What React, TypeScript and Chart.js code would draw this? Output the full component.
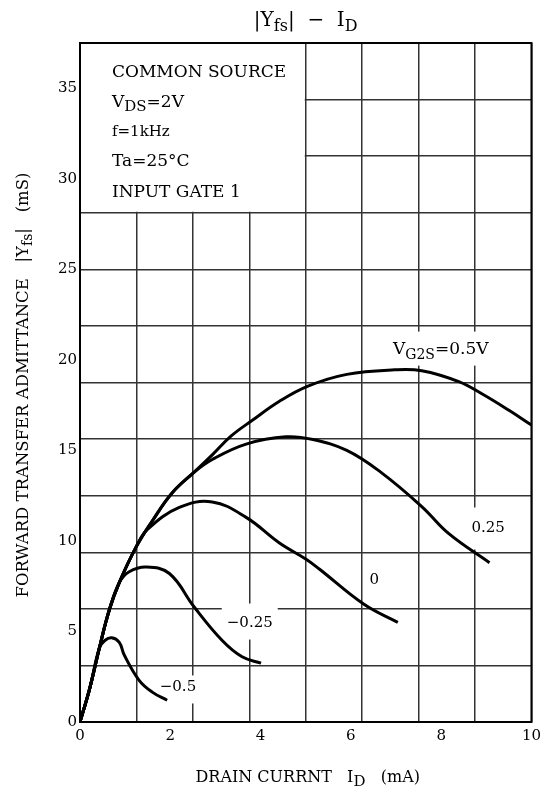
import React, { useEffect, useRef } from 'react';
import { Chart, registerables } from 'chart.js';
Chart.register(...registerables);

const SERIF = "'DejaVu Serif', serif";

// Axis ranges and grid divisions
const X_MAX = 10;
const Y_MAX = 37.5;
const X_GRID_STEP = 1.25;
const Y_GRID_STEP = 3.125;
const X_LABEL_STEP = 2;
const Y_LABEL_STEP = 5;

// VG2S = 0.5 V
const idP050 = [0, 0.21, 0.43, 0.65, 0.87, 1.25, 1.6, 2.04, 2.53, 2.93, 3.35, 3.81, 4.41, 5.05, 5.91, 6.97, 7.57, 8.39, 8.92, 9.51, 10];
const yfsP050 = [0, 1.8, 4.1, 6.2, 7.7, 9.7, 11.1, 12.65, 13.8, 14.75, 15.8, 16.65, 17.7, 18.55, 19.2, 19.45, 19.4, 18.8, 18.1, 17.2, 16.4];
// VG2S = 0.25 V
const idP025 = [0, 0.21, 0.43, 0.65, 0.87, 1.25, 1.6, 2.04, 2.53, 2.93, 3.68, 4.56, 5.16, 5.91, 6.66, 7.57, 8.17, 9.07];
const yfsP025 = [0, 1.8, 4.1, 6.2, 7.7, 9.7, 11.1, 12.65, 13.8, 14.5, 15.35, 15.75, 15.6, 15.0, 13.8, 11.9, 10.4, 8.8];
// VG2S = 0 V
const id000 = [0, 0.21, 0.43, 0.65, 0.87, 1.25, 1.5, 2.2, 2.93, 3.68, 4.41, 5.0, 5.3, 6.29, 7.04];
const yfs000 = [0, 1.8, 4.1, 6.2, 7.7, 9.7, 10.65, 11.85, 12.15, 11.3, 9.9, 9.0, 8.45, 6.5, 5.5];
// VG2S = -0.25 V
const idM025 = [0, 0.21, 0.43, 0.65, 0.87, 1.09, 1.47, 1.98, 2.53, 3.15, 3.59, 4.01];
const yfsM025 = [0, 1.8, 4.1, 6.2, 7.7, 8.3, 8.56, 8.2, 6.35, 4.5, 3.6, 3.25];
// VG2S = -0.5 V
const idM050 = [0, 0.21, 0.43, 0.55, 0.7, 0.87, 0.98, 1.31, 1.6, 1.93];
const yfsM050 = [0, 1.8, 4.1, 4.5, 4.65, 4.4, 3.7, 2.3, 1.65, 1.2];

const seriesX = [idP050, idP025, id000, idM025, idM050];
const seriesY = [yfsP050, yfsP025, yfs000, yfsM025, yfsM050];

type Part = { t: string; sub?: boolean };

const curveLabelParts: Part[][] = [
  [{ t: 'V' }, { t: 'G2S', sub: true }, { t: '=0.5V' }],
  [{ t: '0.25' }],
  [{ t: '0' }],
  [{ t: '\u22120.25' }],
  [{ t: '\u22120.5' }],
];
// label anchor in data units (center of text)
const curveLabelX = [7.99, 9.04, 6.52, 3.76, 2.17];
const curveLabelY = [20.65, 10.77, 7.9, 5.52, 1.99];
const labelPadTop = [8, 12, 8, 11, 3];
const labelPadBottom = [9, 15, 8, 10, 10];

const infoLines: Part[][] = [
  [{ t: 'COMMON SOURCE' }],
  [{ t: 'V' }, { t: 'DS', sub: true }, { t: '=2V' }],
  [{ t: 'f=1kHz' }],
  [{ t: 'Ta=25\u00b0C' }],
  [{ t: 'INPUT GATE 1' }],
];

function drawRich(
  ctx: CanvasRenderingContext2D,
  parts: Part[],
  x: number,
  y: number,
  size: number,
  subSize: number,
  subDy: number,
  align: 'left' | 'center'
) {
  const widths = parts.map((p) => {
    ctx.font = `${p.sub ? subSize : size}px ${SERIF}`;
    return ctx.measureText(p.t).width;
  });
  const total = widths.reduce((a, b) => a + b, 0);
  let cx = align === 'center' ? x - total / 2 : x;
  ctx.textAlign = 'left';
  ctx.textBaseline = 'alphabetic';
  parts.forEach((p, i) => {
    ctx.font = `${p.sub ? subSize : size}px ${SERIF}`;
    ctx.fillText(p.t, cx, y + (p.sub ? subDy : 0));
    cx += widths[i];
  });
  return total;
}

function measureRich(ctx: CanvasRenderingContext2D, parts: Part[], size: number, subSize: number) {
  let w = 0;
  parts.forEach((p) => {
    ctx.font = `${p.sub ? subSize : size}px ${SERIF}`;
    w += ctx.measureText(p.t).width;
  });
  return w;
}

const decorPlugin = {
  id: 'decor',
  beforeDatasetsDraw(chart: any) {
    const { ctx, chartArea, scales } = chart;
    ctx.save();
    ctx.fillStyle = '#fff';
    // info box covering the grid in the upper left
    const bx = scales.x.getPixelForValue(4 * X_GRID_STEP);
    const by = scales.y.getPixelForValue(Y_MAX - 3 * Y_GRID_STEP);
    ctx.fillRect(chartArea.left, chartArea.top, bx - chartArea.left - 1, by - chartArea.top - 1);
    // label boxes
    curveLabelParts.forEach((parts, i) => {
      const size = i === 0 ? 17 : 15;
      const w = measureRich(ctx, parts, size, 14);
      const cx = scales.x.getPixelForValue(curveLabelX[i]);
      const cy = scales.y.getPixelForValue(curveLabelY[i]);
      const padX = 5;
      const top = cy - size / 2 - labelPadTop[i];
      const bottom = cy + size / 2 + labelPadBottom[i];
      ctx.fillRect(cx - w / 2 - padX, top, w + 2 * padX, bottom - top);
    });
    ctx.restore();
  },
  afterDatasetsDraw(chart: any) {
    const { ctx, chartArea, scales } = chart;
    ctx.save();
    ctx.fillStyle = '#000';
    // curve labels
    curveLabelParts.forEach((parts, i) => {
      const size = i === 0 ? 17 : 15;
      const cx = scales.x.getPixelForValue(curveLabelX[i]);
      const cy = scales.y.getPixelForValue(curveLabelY[i]);
      drawRich(ctx, parts, cx, cy + size * 0.36, size, 14, 5, 'center');
    });
    // info text
    const infoLeft = chartArea.left + 32;
    const baselines = [77, 107, 136, 166, 197];
    infoLines.forEach((parts, i) => {
      const size = i === 2 ? 15 : 17;
      drawRich(ctx, parts, infoLeft, baselines[i], size, 15, 4, 'left');
    });
    // frame
    ctx.strokeStyle = '#000';
    ctx.lineWidth = 2;
    ctx.strokeRect(chartArea.left, chartArea.top, chartArea.right - chartArea.left, chartArea.bottom - chartArea.top);
    ctx.restore();
  },
  afterDraw(chart: any) {
    const { ctx, chartArea } = chart;
    ctx.save();
    ctx.fillStyle = '#000';
    const midX = (chartArea.left + chartArea.right) / 2;
    // main title
    drawRich(ctx, [{ t: '|Y' }, { t: 'fs', sub: true }, { t: '|  \u2212  I' }, { t: 'D', sub: true }], midX, 26, 20, 16, 5, 'center');
    // x title
    drawRich(ctx, [{ t: 'DRAIN CURRNT   I' }, { t: 'D', sub: true }, { t: '   (mA)' }], midX + 2, 782, 16, 15, 4, 'center');
    // y title
    ctx.translate(28, 385);
    ctx.rotate(-Math.PI / 2);
    drawRich(ctx, [{ t: 'FORWARD TRANSFER ADMITTANCE   |Y' }, { t: 'fs', sub: true }, { t: '|   (mS)' }], 0, 0, 16.5, 14, 4, 'center');
    ctx.restore();
  },
};

export default function App() {
  const ref = useRef<HTMLCanvasElement | null>(null);
  useEffect(() => {
    if (!ref.current) return;
    const datasets = seriesX.map((xs, s) => ({
      data: xs.map((x, i) => ({ x, y: seriesY[s][i] })),
      borderColor: '#000',
      borderWidth: 3,
      pointRadius: 0,
      fill: false,
      tension: 0.4,
      xAxisID: 'x',
      yAxisID: 'y',
    }));
    const chart = new Chart(ref.current, {
      type: 'line',
      data: { datasets },
      options: {
        animation: false,
        responsive: false,
        layout: { padding: { left: 0, top: 43, right: 13, bottom: 0 } },
        plugins: { legend: { display: false }, tooltip: { enabled: false } },
        scales: {
          x: {
            type: 'linear',
            min: 0,
            max: X_MAX,
            position: 'bottom',
            weight: 0,
            ticks: { display: false, stepSize: X_GRID_STEP },
            grid: { color: '#333', lineWidth: 1.5, drawTicks: false },
            border: { display: false },
            afterFit: (s: any) => { s.height = 0; },
          },
          x2: {
            type: 'linear',
            min: 0,
            max: X_MAX,
            position: 'bottom',
            weight: 1,
            ticks: { stepSize: X_LABEL_STEP, color: '#000', font: { family: SERIF, size: 15 }, padding: 5, maxRotation: 0, autoSkip: false },
            grid: { display: false, drawTicks: false },
            border: { display: false },
            afterFit: (s: any) => { s.height = 65; },
          },
          y: {
            type: 'linear',
            min: 0,
            max: Y_MAX,
            position: 'left',
            weight: 0,
            ticks: { display: false, stepSize: Y_GRID_STEP },
            grid: { color: '#333', lineWidth: 1.5, drawTicks: false },
            border: { display: false },
            afterFit: (s: any) => { s.width = 0; },
          },
          y2: {
            type: 'linear',
            min: 0,
            max: Y_MAX,
            position: 'left',
            weight: 1,
            ticks: { stepSize: Y_LABEL_STEP, includeBounds: false, color: '#000', font: { family: SERIF, size: 15 }, padding: 3, autoSkip: false },
            grid: { display: false, drawTicks: false },
            border: { display: false },
            afterFit: (s: any) => { s.width = 80; },
          },
        },
      },
      plugins: [decorPlugin],
    } as any);
    return () => chart.destroy();
  }, []);
  return (
    <div style={{ position: 'fixed', left: 0, top: 0, width: 546, height: 787, background: '#fff' }}>
      <canvas ref={ref} width={546} height={787} />
    </div>
  );
}
